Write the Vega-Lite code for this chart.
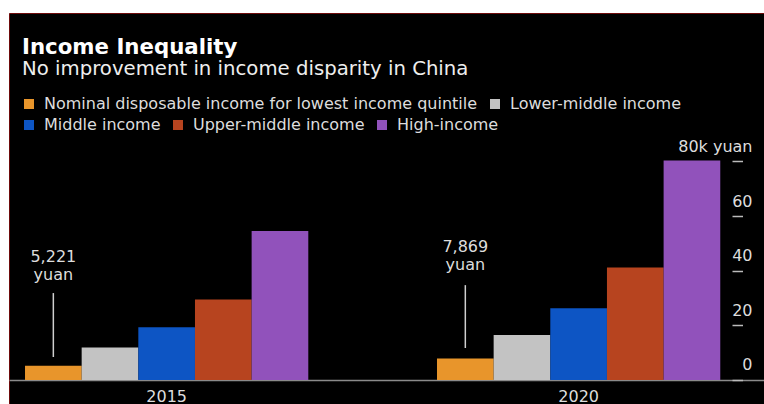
{
  "$schema": "https://vega.github.io/schema/vega-lite/v6.json",
  "width": 755,
  "height": 391,
  "autosize": {"type": "none"},
  "padding": {"left": 9, "top": 13, "right": 0, "bottom": 0},
  "background": "white",
  "config": {
    "view": {"fill": "#000000", "stroke": "#6e0b0b", "strokeWidth": 1},
    "font": "DejaVu Sans"
  },
  "title": {
    "text": "Income Inequality",
    "subtitle": "No improvement in income disparity in China",
    "anchor": "start",
    "frame": "group",
    "orient": "top",
    "offset": -66,
    "dx": 13,
    "font": "DejaVu Sans",
    "fontSize": 21.3,
    "fontWeight": "bold",
    "color": "#ffffff",
    "subtitleFont": "DejaVu Sans",
    "subtitleFontSize": 19.7,
    "subtitleColor": "#eeeeee",
    "subtitlePadding": 1
  },
  "datasets": {
    "bars": [
      {"year": "2015", "category": "Nominal disposable income for lowest income quintile", "value": 5221},
      {"year": "2015", "category": "Lower-middle income", "value": 11894},
      {"year": "2015", "category": "Middle income", "value": 19320},
      {"year": "2015", "category": "Upper-middle income", "value": 29438},
      {"year": "2015", "category": "High-income", "value": 54544},
      {"year": "2020", "category": "Nominal disposable income for lowest income quintile", "value": 7869},
      {"year": "2020", "category": "Lower-middle income", "value": 16443},
      {"year": "2020", "category": "Middle income", "value": 26249},
      {"year": "2020", "category": "Upper-middle income", "value": 41172},
      {"year": "2020", "category": "High-income", "value": 80294}
    ],
    "notes": [
      {"year": "2015", "category": "Nominal disposable income for lowest income quintile", "lineTop": 31800, "lineBottom": 8400, "textY": 41900, "label": "5,221\nyuan"},
      {"year": "2020", "category": "Nominal disposable income for lowest income quintile", "lineTop": 34700, "lineBottom": 11700, "textY": 45700, "label": "7,869\nyuan"}
    ]
  },
  "layer": [
    {
      "data": {"name": "bars"},
      "transform": [{"filter": {"field": "category", "oneOf": ["Nominal disposable income for lowest income quintile", "Lower-middle income"]}}],
      "mark": {"type": "bar"},
      "encoding": {
        "x": {
          "field": "year", "type": "nominal",
          "scale": {"paddingInner": 0.3124, "paddingOuter": 0.0725, "align": 0.268},
          "axis": {
            "orient": "bottom", "offset": -24, "title": null, "labelAngle": 0,
            "domain": true, "domainColor": "#8a8a8a", "domainWidth": 1.5,
            "ticks": false, "labelPadding": 8, "labelFontSize": 16,
            "labelColor": "#dddddd", "labelFont": "DejaVu Sans"
          }
        },
        "xOffset": {
          "field": "category", "type": "nominal",
          "scale": {"domain": ["Nominal disposable income for lowest income quintile", "Lower-middle income", "Middle income", "Upper-middle income", "High-income"], "paddingInner": 0, "paddingOuter": 0}
        },
        "y": {
          "field": "value", "type": "quantitative", "title": null,
          "scale": {"domain": [-8800, 134300], "nice": false, "zero": false},
          "axis": {
            "orient": "right", "offset": -32, "domain": false, "grid": false,
            "values": [0, 20000, 40000, 60000, 80000],
            "labelExpr": "datum.value == 80000 ? '80k yuan' : format(datum.value / 1000, 'd')",
            "tickSize": 10.5, "tickColor": "#bbbbbb", "tickWidth": 1.5,
            "labelAlign": "right", "labelPadding": 9.5, "labelBaseline": "middle",
            "labelOffset": -15, "labelFontSize": 16, "labelColor": "#dddddd",
            "labelFont": "DejaVu Sans", "labelFlush": false,
            "labelOverlap": false, "labelBound": false
          }
        },
        "color": {
          "field": "category", "type": "nominal",
          "scale": {"domain": ["Nominal disposable income for lowest income quintile", "Lower-middle income"], "range": ["#e8952b", "#c3c3c3"]},
          "legend": {
            "title": null, "orient": "none", "legendX": 12, "legendY": 83,
            "direction": "horizontal", "columns": 2, "columnPadding": 9,
            "symbolType": "square", "symbolSize": 100, "symbolStrokeWidth": 0,
            "labelFontSize": 16, "labelColor": "#dddddd", "labelFont": "DejaVu Sans",
            "labelLimit": 600, "labelOffset": 7, "padding": 0
          }
        }
      }
    },
    {
      "data": {"name": "bars"},
      "transform": [{"filter": {"field": "category", "oneOf": ["Middle income", "Upper-middle income", "High-income"]}}],
      "mark": {"type": "bar"},
      "encoding": {
        "x": {"field": "year", "type": "nominal", "scale": {"paddingInner": 0.3124, "paddingOuter": 0.0725, "align": 0.268}},
        "xOffset": {
          "field": "category", "type": "nominal",
          "scale": {"domain": ["Nominal disposable income for lowest income quintile", "Lower-middle income", "Middle income", "Upper-middle income", "High-income"], "paddingInner": 0, "paddingOuter": 0}
        },
        "y": {"field": "value", "type": "quantitative", "title": null, "scale": {"domain": [-8800, 134300], "nice": false, "zero": false}},
        "fill": {
          "field": "category", "type": "nominal",
          "scale": {"domain": ["Middle income", "Upper-middle income", "High-income"], "range": ["#0d55c4", "#b7441f", "#9152bb"]},
          "legend": {
            "title": null, "orient": "none", "legendX": 12, "legendY": 104,
            "direction": "horizontal", "columns": 3, "columnPadding": 9,
            "symbolType": "square", "symbolSize": 100, "symbolStrokeWidth": 0,
            "labelFontSize": 16, "labelColor": "#dddddd", "labelFont": "DejaVu Sans",
            "labelLimit": 600, "labelOffset": 7, "padding": 0
          }
        }
      }
    },
    {
      "data": {"name": "notes"},
      "mark": {"type": "rule", "color": "#cfcfcf", "strokeWidth": 1.5},
      "encoding": {
        "x": {"field": "year", "type": "nominal", "scale": {"paddingInner": 0.3124, "paddingOuter": 0.0725, "align": 0.268}},
        "xOffset": {
          "field": "category", "type": "nominal",
          "scale": {"domain": ["Nominal disposable income for lowest income quintile", "Lower-middle income", "Middle income", "Upper-middle income", "High-income"], "paddingInner": 0, "paddingOuter": 0}
        },
        "y": {"field": "lineTop", "type": "quantitative", "title": null, "scale": {"domain": [-8800, 134300], "nice": false, "zero": false}},
        "y2": {"field": "lineBottom"}
      }
    },
    {
      "data": {"name": "notes"},
      "mark": {"type": "text", "color": "#dddddd", "fontSize": 16, "font": "DejaVu Sans", "align": "center", "baseline": "bottom", "lineBreak": "\n", "lineHeight": 17.5},
      "encoding": {
        "x": {"field": "year", "type": "nominal", "scale": {"paddingInner": 0.3124, "paddingOuter": 0.0725, "align": 0.268}},
        "xOffset": {
          "field": "category", "type": "nominal",
          "scale": {"domain": ["Nominal disposable income for lowest income quintile", "Lower-middle income", "Middle income", "Upper-middle income", "High-income"], "paddingInner": 0, "paddingOuter": 0}
        },
        "y": {"field": "textY", "type": "quantitative", "title": null, "scale": {"domain": [-8800, 134300], "nice": false, "zero": false}},
        "text": {"field": "label"}
      }
    }
  ]
}
